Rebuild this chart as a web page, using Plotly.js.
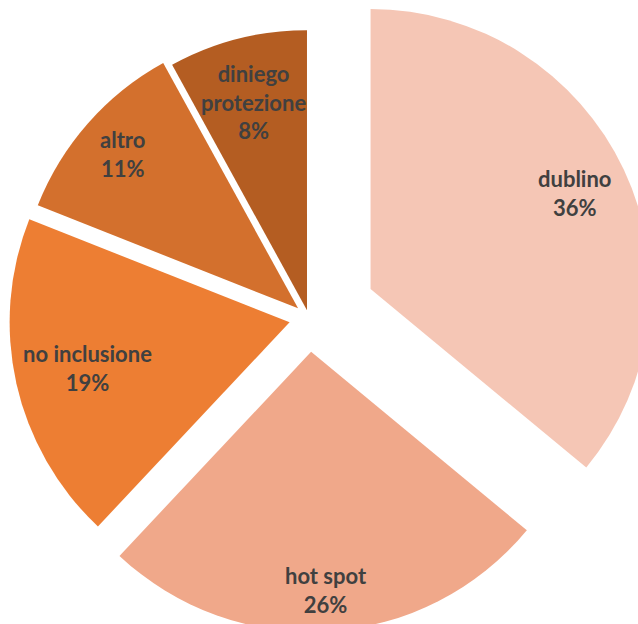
<!DOCTYPE html>
<html>
<head>
<meta charset="utf-8">
<script src="https://cdn.plot.ly/plotly-3.0.1.min.js"></script>
<style>
html, body { margin: 0; padding: 0; overflow: hidden; background: #ffffff; width: 638px; height: 624px; }
#chart { position: absolute; left: -39px; top: -30px; width: 696px; height: 696px; }
</style>
</head>
<body>
<div id="chart"></div>
<script>
const categories = ["dublino", "hot spot", "no inclusione", "altro", "diniego<br>protezione"];
const values = [36, 26, 19, 11, 8];
const colors = ["#F5C6B5", "#F0A88A", "#ED7E33", "#D3702D", "#B45D22"];
const pulls = [0.243, 0.121, 0.071, 0.052, 0.029];
const labelRadius = [0.804, 0.853, 0.74, 0.835, 0.768];

const W = 696, H = 696;
const maxPull = Math.max(...pulls);
const rFrac = 1 / (2 * (1 + maxPull));
const total = values.reduce((a, b) => a + b, 0);

const annotations = [];
let cum = 0;
values.forEach((v, i) => {
  const theta = 2 * Math.PI * (cum + v / 2) / total;
  cum += v;
  const rho = (pulls[i] + labelRadius[i]) * rFrac;
  annotations.push({
    xref: "paper", yref: "paper",
    x: 0.5 + rho * Math.sin(theta),
    y: 0.5 + rho * Math.cos(theta),
    xanchor: "center", yanchor: "middle",
    showarrow: false,
    align: "center",
    text: categories[i] + "<br>" + Math.round(v / total * 100) + "%",
    font: { family: "Lato, 'Open Sans', sans-serif", size: 22, color: "#404040", weight: "bold" }
  });
});

const trace = {
  type: "pie",
  labels: categories,
  values: values,
  sort: false,
  direction: "clockwise",
  rotation: 0,
  pull: pulls,
  marker: { colors: colors, line: { width: 0 } },
  textinfo: "none",
  hoverinfo: "none",
  showlegend: false,
  domain: { x: [0, 1], y: [0, 1] }
};

const layout = {
  width: W,
  height: H,
  margin: { l: 0, r: 0, t: 0, b: 0 },
  paper_bgcolor: "#ffffff",
  plot_bgcolor: "#ffffff",
  showlegend: false,
  annotations: annotations
};

Plotly.newPlot("chart", [trace], layout, { staticPlot: true, displayModeBar: false });
</script>
</body>
</html>
